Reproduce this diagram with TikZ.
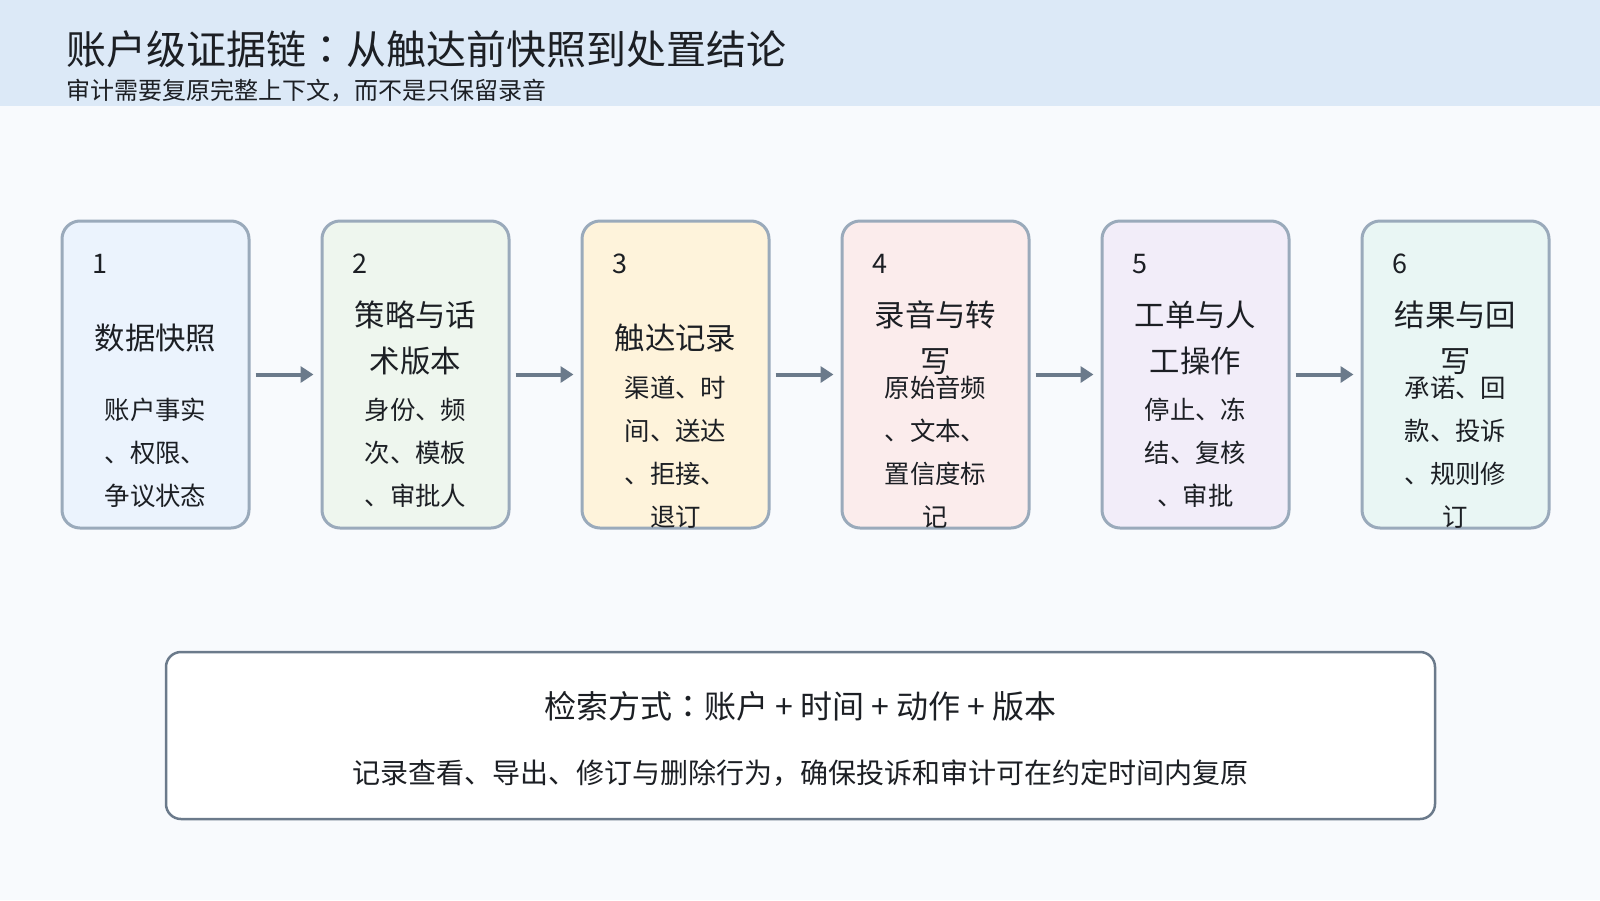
\documentclass[tikz,border=0pt]{standalone}
\usepackage{fontspec}
\setmainfont{Noto Sans CJK SC}
\newfontfamily\cjkjp{Noto Sans CJK JP}
\usetikzlibrary{arrows.meta}
\definecolor{pagebg}{HTML}{F8FAFD}
\definecolor{bandbg}{HTML}{DCE9F7}
\definecolor{cardline}{HTML}{9AAABB}
\definecolor{arrowgrey}{HTML}{6B7A8B}
\definecolor{inkdark}{HTML}{1C1F24}
\definecolor{fillA}{HTML}{EBF3FD}
\definecolor{fillB}{HTML}{EEF6EE}
\definecolor{fillC}{HTML}{FEF3DB}
\definecolor{fillD}{HTML}{FBECEC}
\definecolor{fillE}{HTML}{F2EDF9}
\definecolor{fillF}{HTML}{E9F6F4}
\newcommand{\midcolon}{{\cjkjp ：}}

\begin{document}
\begin{tikzpicture}[x=0.5pt,y=0.5pt,yscale=-1,xscale=1,
  every node/.style={text=inkdark},
  stepcard/.style={draw=cardline,line width=1.5pt,rounded corners=9pt,minimum width=93.5pt,minimum height=153.5pt,inner sep=0pt},
  cardno/.style={anchor=west,inner sep=0pt,font=\fontsize{13.5}{16}\selectfont},
  cardhead/.style={align=center,inner sep=0pt,font=\fontsize{15.2}{23}\selectfont},
  cardbody/.style={align=center,inner sep=0pt,font=\fontsize{12.7}{21.5}\selectfont},
  flowarrow/.style={draw=arrowgrey,line width=2pt,-{Triangle[length=6.5pt,width=8pt]},shorten <=2.5pt,shorten >=3.5pt}]
\useasboundingbox (0,0) rectangle (1600,900);

%Background
\fill[pagebg] (0,0) rectangle (1600,900);
\fill[bandbg] (0,0) rectangle (1600,106);
\node[anchor=west,inner sep=0pt,font=\fontsize{20}{24}\selectfont] (title) at (66,49) {账户级证据链\midcolon 从触达前快照到处置结论};
\node[anchor=west,inner sep=0pt,font=\fontsize{12}{14}\selectfont] (subtitle) at (66,91) {审计需要复原完整上下文，而不是只保留录音};

%Shape: Card 1
\node[stepcard,fill=fillA] (card1) at (155.5,374.5) {};
\node[cardno] (no1) at (92,264) {1};
\node[cardhead] (head1) at (155.5,338) {数据快照};
\node[cardbody] (body1) at (155.5,453) {账户事实\\、权限、\\争议状态};
%Shape: Card 2
\node[stepcard,fill=fillB] (card2) at (415.5,374.5) {};
\node[cardno] (no2) at (352,264) {2};
\node[cardhead] (head2) at (415.5,338) {策略与话\\术版本};
\node[cardbody] (body2) at (415.5,453) {身份、频\\次、模板\\、审批人};
%Shape: Card 3
\node[stepcard,fill=fillC] (card3) at (675.5,374.5) {};
\node[cardno] (no3) at (612,264) {3};
\node[cardhead] (head3) at (675.5,338) {触达记录};
\node[cardbody] (body3) at (675.5,452) {渠道、时\\间、送达\\、拒接、\\退订};
%Shape: Card 4
\node[stepcard,fill=fillD] (card4) at (935.5,374.5) {};
\node[cardno] (no4) at (872,264) {4};
\node[cardhead] (head4) at (935.5,338) {录音与转\\写};
\node[cardbody] (body4) at (935.5,452) {原始音频\\、文本、\\置信度标\\记};
%Shape: Card 5
\node[stepcard,fill=fillE] (card5) at (1195.5,374.5) {};
\node[cardno] (no5) at (1132,264) {5};
\node[cardhead] (head5) at (1195.5,338) {工单与人\\工操作};
\node[cardbody] (body5) at (1195.5,453) {停止、冻\\结、复核\\、审批};
%Shape: Card 6
\node[stepcard,fill=fillF] (card6) at (1455.5,374.5) {};
\node[cardno] (no6) at (1392,264) {6};
\node[cardhead] (head6) at (1455.5,338) {结果与回\\写};
\node[cardbody] (body6) at (1455.5,452) {承诺、回\\款、投诉\\、规则修\\订};

%Straight Lines
\draw[flowarrow] (card1.east) -- (card2.west);
\draw[flowarrow] (card2.east) -- (card3.west);
\draw[flowarrow] (card3.east) -- (card4.west);
\draw[flowarrow] (card4.east) -- (card5.west);
\draw[flowarrow] (card5.east) -- (card6.west);

%Shape: Search box
\node[draw=arrowgrey,line width=1.25pt,fill=white,rounded corners=7.5pt,minimum width=634.5pt,minimum height=83.5pt,inner sep=0pt] (search) at (800.5,735.5) {};
\node[inner sep=0pt,font=\fontsize{16}{19}\selectfont] (searchhead) at (800.5,706) {检索方式\midcolon 账户 + 时间 + 动作 + 版本};
\node[inner sep=0pt,font=\fontsize{14}{17}\selectfont] (searchbody) at (800.5,773) {记录查看、导出、修订与删除行为，确保投诉和审计可在约定时间内复原};
\end{tikzpicture}
\end{document}
